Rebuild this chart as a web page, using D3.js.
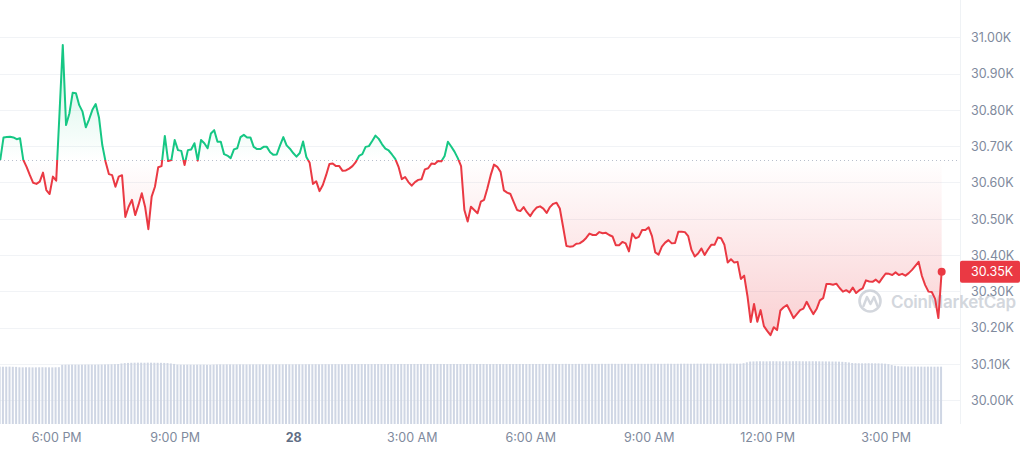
<!DOCTYPE html>
<html><head><meta charset="utf-8">
<script src="https://cdn.jsdelivr.net/npm/d3@7/dist/d3.min.js"></script>
<style>
html,body{margin:0;padding:0;background:#fff;}
svg{display:block;font-family:Inter,"Liberation Sans",Arial,sans-serif;}
</style>
</head><body>
<svg id="chart" width="1024" height="454"></svg>
<script>
// ---- data ----
const startTime = "2023-06-27T16:35";
const stepMinutes = 5;
const prices = [
30662,30724,30725,30726,30724,30719,30722,30662,30643,30620,
30599,30596,30602,30627,30579,30568,30616,30605,30790,30979,
30758,30790,30847,30846,30813,30795,30752,30774,30800,30816,
30779,30703,30657,30623,30620,30588,30616,30620,30505,30533,
30552,30510,30538,30570,30533,30471,30561,30588,30642,30645,
30728,30659,30662,30717,30689,30687,30648,30689,30691,30708,
30660,30717,30708,30694,30735,30744,30712,30712,30678,30674,
30667,30691,30694,30725,30731,30724,30724,30698,30692,30692,
30698,30698,30683,30676,30677,30702,30725,30702,30693,30681,
30671,30681,30713,30670,30654,30596,30603,30576,30593,30620,
30651,30652,30645,30645,30632,30633,30638,30645,30656,30673,
30678,30698,30700,30714,30729,30720,30705,30693,30688,30677,
30665,30643,30609,30615,30601,30591,30601,30607,30609,30636,
30639,30652,30651,30659,30658,30673,30712,30699,30685,30667,
30645,30524,30492,30533,30524,30515,30547,30552,30584,30620,
30649,30643,30629,30578,30572,30568,30546,30524,30521,30532,
30518,30507,30521,30531,30534,30528,30516,30532,30541,30544,
30528,30477,30425,30423,30424,30431,30432,30438,30447,30459,
30455,30455,30463,30460,30461,30455,30451,30427,30427,30436,
30432,30410,30459,30446,30450,30469,30469,30476,30452,30407,
30401,30423,30434,30441,30432,30433,30464,30464,30463,30452,
30414,30396,30404,30418,30400,30415,30428,30428,30448,30446,
30428,30379,30388,30379,30381,30334,30343,30287,30215,30265,
30216,30248,30204,30191,30179,30201,30193,30247,30256,30262,
30245,30226,30237,30248,30252,30271,30253,30237,30251,30275,
30281,30320,30320,30318,30321,30309,30299,30303,30297,30310,
30295,30303,30308,30330,30327,30326,30332,30324,30337,30349,
30348,30345,30352,30345,30348,30343,30350,30359,30370,30381,
30342,30317,30299,30298,30279,30226,30354
];
const volumes = [
12.60,12.58,12.59,12.60,12.57,12.55,
12.46,12.45,12.47,12.46,12.44,12.45,12.46,12.47,12.46,12.45,12.44,12.46,12.48,
13.00,13.02,13.03,13.04,13.03,13.02,13.03,13.04,13.05,13.04,13.03,13.05,13.06,13.08,13.10,13.12,13.15,13.18,
13.30,13.38,13.42,13.45,13.47,13.48,13.47,13.46,13.48,13.47,13.46,13.45,13.44,13.42,13.38,13.30,13.20,
13.05,13.03,13.02,13.03,13.02,13.01,13.03,13.02,13.03,13.00,12.98,13.04,
13.08,13.09,13.08,13.10,13.09,13.08,13.09,13.10,13.09,13.08,
13.09,13.10,13.09,13.10,13.11,13.10,13.09,13.10,13.11,13.10,
13.11,13.12,13.11,13.10,13.11,13.12,13.11,13.12,13.13,13.12,
13.13,13.12,13.13,13.14,13.13,13.14,13.15,13.14,13.13,13.14,
13.15,13.16,13.15,13.16,13.17,13.16,13.15,13.16,13.17,13.18,
13.17,13.16,13.17,13.18,13.17,13.18,13.19,13.18,13.17,13.18,
13.19,13.18,13.19,13.20,13.19,13.18,13.19,13.20,13.19,13.18,
13.17,13.18,13.19,13.18,13.17,13.18,13.19,13.20,13.19,13.18,
13.19,13.18,13.17,13.16,13.17,13.18,13.17,13.16,13.17,13.18,
13.17,13.18,13.19,13.18,13.17,13.18,13.19,13.18,13.19,13.20,
13.19,13.20,13.21,13.20,13.19,13.20,13.21,13.20,13.19,13.20,
13.21,13.20,13.21,13.22,13.21,13.20,13.21,13.22,13.21,13.22,
13.23,13.22,13.21,13.22,13.23,13.22,13.21,13.22,13.23,13.22,
13.21,13.22,13.23,13.24,13.23,13.22,13.23,13.24,13.23,13.22,
13.23,13.24,13.25,13.24,13.23,13.24,13.25,13.24,13.25,13.26,
13.25,13.24,13.25,13.26,13.25,13.26,13.27,13.26,13.25,13.26,
13.35,13.55,
13.72,13.75,13.77,13.78,13.77,13.76,13.78,13.79,13.78,13.77,13.76,13.77,13.78,13.79,13.80,13.79,
13.78,13.77,13.78,13.79,13.78,13.77,13.76,13.75,13.74,13.73,13.72,13.70,13.66,13.60,13.52,
13.40,13.36,13.34,13.33,13.34,13.35,13.34,13.33,13.32,13.30,13.25,13.15,
12.95,12.80,12.70,12.66,12.64,12.63,12.62,12.63,12.62,12.61,12.60,12.61,12.60,12.59,12.60,12.60
];
const priceTicks = [30000,30100,30200,30300,30400,30500,30600,30700,30800,30900,31000];
const timeTicks = ["2023-06-27T18:00","2023-06-27T21:00","2023-06-28T00:00","2023-06-28T03:00","2023-06-28T06:00","2023-06-28T09:00","2023-06-28T12:00","2023-06-28T15:00"];
const timeTickLabels = ["6:00 PM","9:00 PM","28","3:00 AM","6:00 AM","9:00 AM","12:00 PM","3:00 PM"];
const watermark = "CoinMarketCap";

// ---- setup ----
const parse = d3.timeParse("%Y-%m-%dT%H:%M");
const t0 = parse(startTime);
const data = prices.map((p, i) => ({
  date: new Date(t0.getTime() + i * stepMinutes * 60000),
  price: p,
  volume: volumes[i]
}));
const baseline = prices[0];
const last = data[data.length - 1];

const GREEN = "#16c784", RED = "#ea3943";
const plotRight = 960;

const x = d3.scaleTime()
  .domain([parse(timeTicks[0]), parse(timeTicks[timeTicks.length - 1])])
  .range([56.2, 885.7]);
const y = d3.scaleLinear().domain([30000, 31000]).range([400.1, 37.3]);
const yv = d3.scaleLinear().domain([0, 14.5]).range([424, 358]);

const svg = d3.select("#chart");
const defs = svg.append("defs");

// gradients
const gUp = defs.append("linearGradient").attr("id", "gUp")
  .attr("gradientUnits", "userSpaceOnUse")
  .attr("x1", 0).attr("x2", 0)
  .attr("y1", y(d3.max(prices))).attr("y2", y(baseline));
gUp.append("stop").attr("offset", 0).attr("stop-color", GREEN).attr("stop-opacity", 0.22);
gUp.append("stop").attr("offset", 1).attr("stop-color", GREEN).attr("stop-opacity", 0.0);
const gDn = defs.append("linearGradient").attr("id", "gDn")
  .attr("gradientUnits", "userSpaceOnUse")
  .attr("x1", 0).attr("x2", 0)
  .attr("y1", y(baseline)).attr("y2", y(d3.min(prices)));
gDn.append("stop").attr("offset", 0).attr("stop-color", RED).attr("stop-opacity", 0.0);
gDn.append("stop").attr("offset", 1).attr("stop-color", RED).attr("stop-opacity", 0.24);

defs.append("clipPath").attr("id", "clipUp").append("rect")
  .attr("x", -10).attr("y", 0).attr("width", 1100).attr("height", y(baseline));
defs.append("clipPath").attr("id", "clipDn").append("rect")
  .attr("x", -10).attr("y", y(baseline)).attr("width", 1100).attr("height", 454 - y(baseline));

// grid lines
svg.append("g").selectAll("line").data(priceTicks).join("line")
  .attr("x1", 0).attr("x2", plotRight)
  .attr("y1", d => Math.round(y(d)) + 0.5).attr("y2", d => Math.round(y(d)) + 0.5)
  .attr("stroke", "#f1f3f6").attr("stroke-width", 1);
svg.append("line")
  .attr("x1", plotRight + 0.5).attr("x2", plotRight + 0.5)
  .attr("y1", 0).attr("y2", 424)
  .attr("stroke", "#eff2f5");

// volume bars
const bw = 2.0;
svg.append("g").selectAll("rect").data(data).join("rect")
  .attr("x", d => x(d.date) - bw / 2 - 0.6)
  .attr("width", bw)
  .attr("y", d => yv(d.volume))
  .attr("height", d => yv(0) - yv(d.volume))
  .attr("fill", "#cfd6e4");

// baseline dotted
svg.append("line")
  .attr("x1", 0).attr("x2", plotRight)
  .attr("y1", Math.round(y(baseline)) + 0.5).attr("y2", Math.round(y(baseline)) + 0.5)
  .attr("stroke", "#b8bfcc").attr("stroke-width", 1).attr("stroke-dasharray", "1,3");

// areas
const area = d3.area().x(d => x(d.date)).y0(y(baseline)).y1(d => y(d.price));
svg.append("path").datum(data).attr("d", area).attr("fill", "url(#gUp)").attr("clip-path", "url(#clipUp)");
svg.append("path").datum(data).attr("d", area).attr("fill", "url(#gDn)").attr("clip-path", "url(#clipDn)");

// watermark
const wm = svg.append("g").attr("opacity", 0.5);
wm.append("circle").attr("cx", 870).attr("cy", 301).attr("r", 10.5)
  .attr("fill", "none").attr("stroke", "#a9b0bd").attr("stroke-width", 2.6);
wm.append("path").attr("d", "M863.5,306 L867,297 L870.5,304 L874,297 L877.5,306")
  .attr("fill", "none").attr("stroke", "#a9b0bd").attr("stroke-width", 2.4)
  .attr("stroke-linejoin", "round").attr("stroke-linecap", "round");
wm.append("text").attr("x", 891).attr("y", 308)
  .attr("font-size", 17).attr("font-weight", 600).attr("fill", "#a9b0bd")
  .attr("textLength", 125)
  .text(watermark);

// lines
const line = d3.line().x(d => x(d.date)).y(d => y(d.price));
svg.append("path").datum(data).attr("d", line).attr("fill", "none")
  .attr("stroke", GREEN).attr("stroke-width", 2).attr("stroke-linejoin", "round")
  .attr("clip-path", "url(#clipUp)");
svg.append("path").datum(data).attr("d", line).attr("fill", "none")
  .attr("stroke", RED).attr("stroke-width", 2).attr("stroke-linejoin", "round")
  .attr("clip-path", "url(#clipDn)");

// end dot
svg.append("circle").attr("cx", x(last.date)).attr("cy", y(last.price)).attr("r", 4)
  .attr("fill", last.price >= baseline ? GREEN : RED);

// y axis
const yAxis = d3.axisRight(y).tickValues(priceTicks).tickSize(0).tickPadding(0)
  .tickFormat(d => d3.format(".2f")(d / 1000) + "K");
const gy = svg.append("g").attr("transform", `translate(${plotRight + 11},0)`).call(yAxis);
gy.select(".domain").remove();
gy.selectAll("text").attr("font-family", "Inter, 'Liberation Sans', Arial, sans-serif")
  .attr("font-size", 12.5).attr("fill", "#808a9d").attr("dy", "0.35em");

// x axis
const xAxis = d3.axisBottom(x).tickValues(timeTicks.map(parse)).tickSize(0).tickPadding(0)
  .tickFormat((d, i) => timeTickLabels[i]);
const gx = svg.append("g").attr("transform", "translate(0,433)").call(xAxis);
gx.select(".domain").remove();
gx.selectAll("text").attr("font-family", "Inter, 'Liberation Sans', Arial, sans-serif")
  .attr("font-size", 12.5).attr("dy", "0.71em")
  .attr("font-weight", (d, i) => timeTickLabels[i] === "28" ? 700 : 400)
  .attr("fill", (d, i) => timeTickLabels[i] === "28" ? "#616e85" : "#808a9d");

// price badge
const by = y(last.price);
svg.append("rect").attr("x", plotRight).attr("y", by - 11).attr("width", 60).attr("height", 22)
  .attr("rx", 2).attr("fill", RED);
svg.append("text").attr("x", plotRight + 11).attr("y", by).attr("dy", "0.35em")
  .attr("font-size", 12.5).attr("fill", "#fff")
  .text(d3.format(".2f")(last.price / 1000) + "K");
</script>
</body></html>
